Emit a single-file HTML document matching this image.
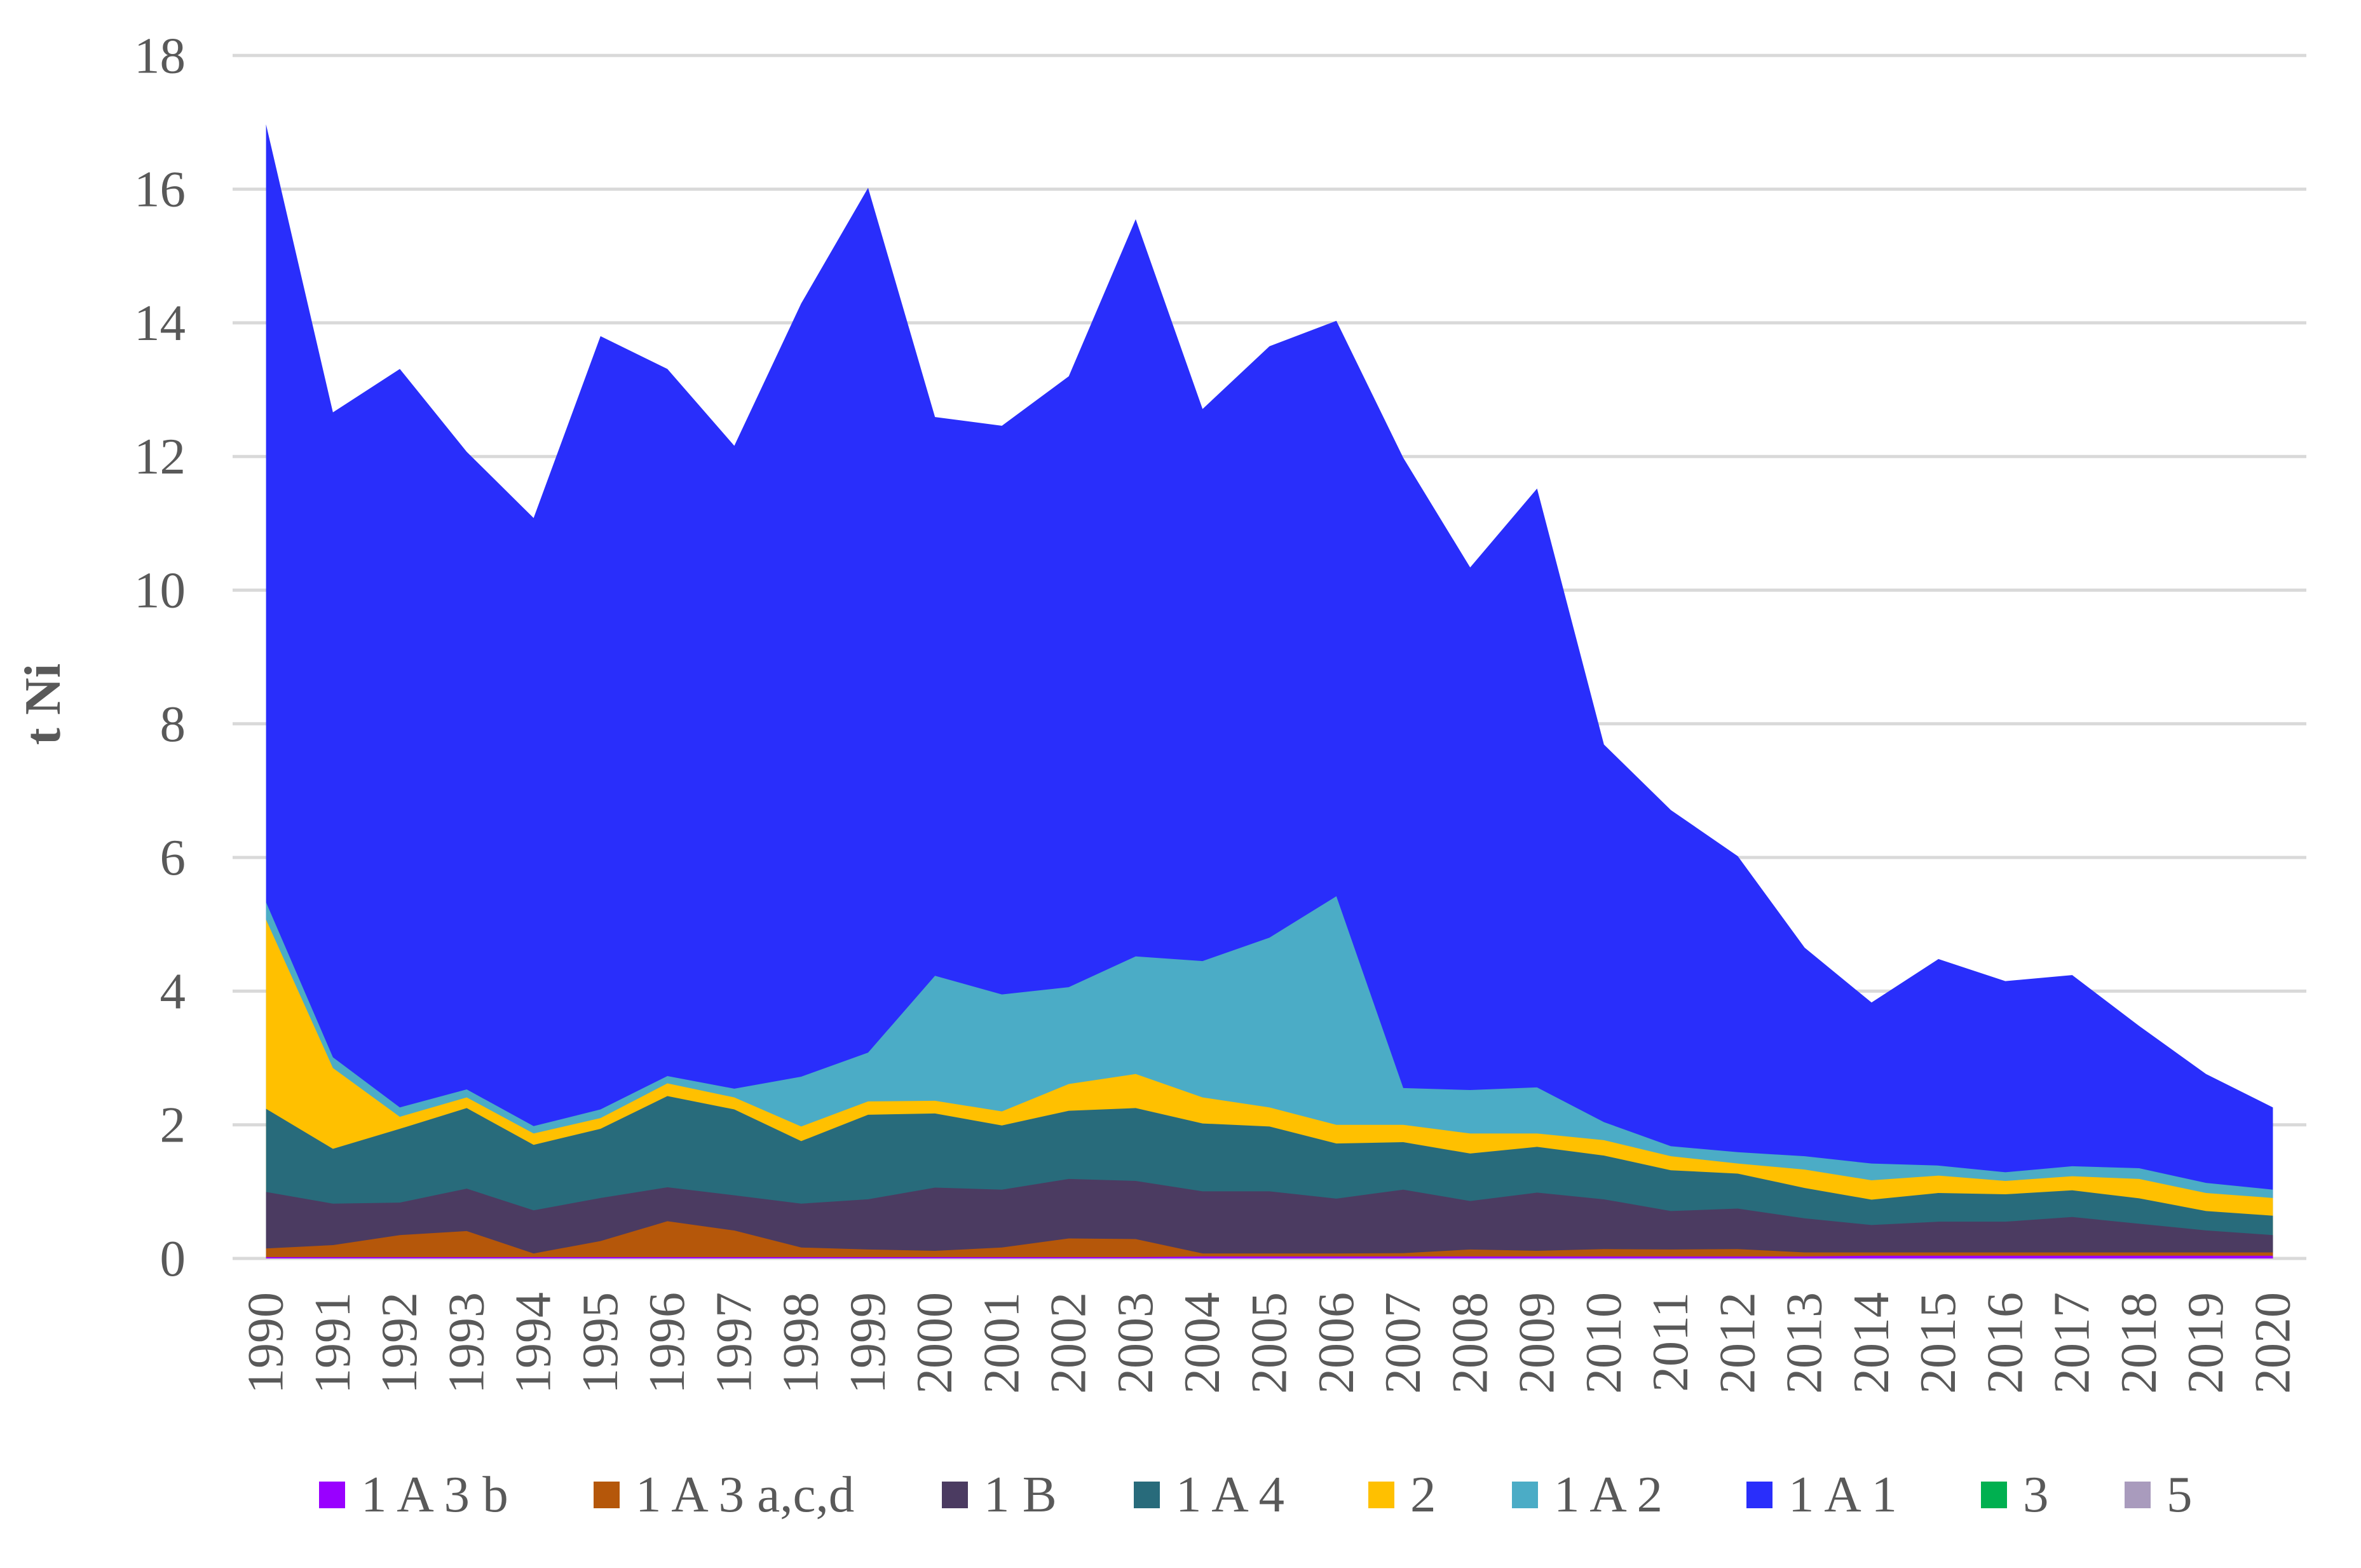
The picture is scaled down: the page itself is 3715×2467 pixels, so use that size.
<!DOCTYPE html>
<html>
<head>
<meta charset="utf-8">
<style>
  html, body { margin: 0; padding: 0; background: #ffffff; }
  svg { display: block; }
  text { font-family: "Liberation Serif", "Times New Roman", serif; fill: #595959; }
</style>
</head>
<body>
<svg width="3715" height="2467" viewBox="0 0 3715 2467" xmlns="http://www.w3.org/2000/svg">
  <rect x="0" y="0" width="3715" height="2467" fill="#ffffff"/>

  <!-- gridlines -->
  <g stroke="#d9d9d9" stroke-width="5">
    <line x1="366" y1="87.3" x2="3629" y2="87.3"/>
    <line x1="366" y1="297.6" x2="3629" y2="297.6"/>
    <line x1="366" y1="507.9" x2="3629" y2="507.9"/>
    <line x1="366" y1="718.2" x2="3629" y2="718.2"/>
    <line x1="366" y1="928.5" x2="3629" y2="928.5"/>
    <line x1="366" y1="1138.8" x2="3629" y2="1138.8"/>
    <line x1="366" y1="1349.1" x2="3629" y2="1349.1"/>
    <line x1="366" y1="1559.4" x2="3629" y2="1559.4"/>
    <line x1="366" y1="1769.7" x2="3629" y2="1769.7"/>
    <line x1="366" y1="1980" x2="3629" y2="1980"/>
  </g>

  <!-- stacked areas (cumulative, drawn top layer first) -->
  <g transform="translate(418.6,1980) scale(105.26,-105.15)">
    <!-- 1 A 1 (total) -->
    <polygon fill="#292EFB" points="0,0 0,16.97 1,12.66 2,13.31 3,12.07 4,11.08 5,13.80 6,13.31 7,12.16 8,14.29 9,16.02 10,12.59 11,12.46 12,13.20 13,15.55 14,12.71 15,13.65 16,14.03 17,11.98 18,10.34 19,11.52 20,7.69 21,6.71 22,6.02 23,4.65 24,3.83 25,4.48 26,4.15 27,4.24 28,3.48 29,2.76 30,2.26 30,0"/>
    <!-- 1 A 2 -->
    <polygon fill="#4BACC6" points="0,0 0,5.33 1,3.01 2,2.26 3,2.53 4,1.98 5,2.23 6,2.73 7,2.54 8,2.72 9,3.08 10,4.23 11,3.95 12,4.06 13,4.52 14,4.45 15,4.80 16,5.42 17,2.55 18,2.52 19,2.56 20,2.04 21,1.68 22,1.59 23,1.53 24,1.42 25,1.39 26,1.29 27,1.38 28,1.35 29,1.13 30,1.03 30,0"/>
    <!-- 2 -->
    <polygon fill="#FFC000" points="0,0 0,5.07 1,2.85 2,2.12 3,2.41 4,1.87 5,2.10 6,2.62 7,2.41 8,1.975 9,2.35 10,2.36 11,2.20 12,2.61 13,2.76 14,2.41 15,2.26 16,2.00 17,2.00 18,1.87 19,1.87 20,1.77 21,1.53 22,1.42 23,1.33 24,1.17 25,1.24 26,1.16 27,1.23 28,1.19 29,0.98 30,0.905 30,0"/>
    <!-- 1 A 4 -->
    <polygon fill="#286B7B" points="0,0 0,2.24 1,1.64 2,1.94 3,2.25 4,1.70 5,1.94 6,2.43 7,2.23 8,1.756 9,2.15 10,2.17 11,1.99 12,2.21 13,2.25 14,2.02 15,1.975 16,1.72 17,1.74 18,1.57 19,1.67 20,1.54 21,1.32 22,1.27 23,1.055 24,0.88 25,0.98 26,0.96 27,1.02 28,0.90 29,0.71 30,0.64 30,0"/>
    <!-- 1 B -->
    <polygon fill="#4B3B61" points="0,0 0,0.995 1,0.82 2,0.836 3,1.045 4,0.72 5,0.905 6,1.065 7,0.945 8,0.82 9,0.886 10,1.06 11,1.03 12,1.19 13,1.16 14,1.005 15,1.005 16,0.895 17,1.03 18,0.86 19,0.985 20,0.885 21,0.71 22,0.746 23,0.60 24,0.50 25,0.55 26,0.55 27,0.62 28,0.52 29,0.42 30,0.35 30,0"/>
    <!-- 1 A 3 a,c,d -->
    <polygon fill="#B5570A" points="0,0 0,0.15 1,0.2 2,0.35 3,0.41 4,0.075 5,0.26 6,0.557 7,0.418 8,0.164 9,0.134 10,0.114 11,0.164 12,0.30 13,0.29 14,0.075 15,0.075 16,0.075 17,0.08 18,0.134 19,0.114 20,0.14 21,0.134 22,0.14 23,0.09 24,0.09 25,0.09 26,0.09 27,0.09 28,0.09 29,0.09 30,0.09 30,0"/>
    <!-- 1 A 3 b -->
    <polygon fill="#9900FF" points="0,0 0,0.02 13,0.02 14,0.03 23,0.03 24,0.04 30,0.04 30,0"/>
  </g>

  <!-- y-axis labels -->
  <g font-size="81" text-anchor="end" dominant-baseline="central">
    <text x="292" y="87.3">18</text>
    <text x="292" y="297.6">16</text>
    <text x="292" y="507.9">14</text>
    <text x="292" y="718.2">12</text>
    <text x="292" y="928.5">10</text>
    <text x="292" y="1138.8">8</text>
    <text x="292" y="1349.1">6</text>
    <text x="292" y="1559.4">4</text>
    <text x="292" y="1769.7">2</text>
    <text x="292" y="1980">0</text>
  </g>

  <!-- y-axis title -->
  <text transform="translate(67,1108) rotate(-90)" font-size="81" font-weight="bold" text-anchor="middle" dominant-baseline="central">t Ni</text>

  <!-- x-axis labels -->
  <g font-size="80" text-anchor="end" dominant-baseline="central">
    <text transform="translate(418.6,2033) rotate(-90)">1990</text>
    <text transform="translate(523.9,2033) rotate(-90)">1991</text>
    <text transform="translate(629.1,2033) rotate(-90)">1992</text>
    <text transform="translate(734.4,2033) rotate(-90)">1993</text>
    <text transform="translate(839.6,2033) rotate(-90)">1994</text>
    <text transform="translate(944.9,2033) rotate(-90)">1995</text>
    <text transform="translate(1050.2,2033) rotate(-90)">1996</text>
    <text transform="translate(1155.4,2033) rotate(-90)">1997</text>
    <text transform="translate(1260.7,2033) rotate(-90)">1998</text>
    <text transform="translate(1365.9,2033) rotate(-90)">1999</text>
    <text transform="translate(1471.2,2033) rotate(-90)">2000</text>
    <text transform="translate(1576.5,2033) rotate(-90)">2001</text>
    <text transform="translate(1681.7,2033) rotate(-90)">2002</text>
    <text transform="translate(1787.0,2033) rotate(-90)">2003</text>
    <text transform="translate(1892.2,2033) rotate(-90)">2004</text>
    <text transform="translate(1997.5,2033) rotate(-90)">2005</text>
    <text transform="translate(2102.8,2033) rotate(-90)">2006</text>
    <text transform="translate(2208.0,2033) rotate(-90)">2007</text>
    <text transform="translate(2313.3,2033) rotate(-90)">2008</text>
    <text transform="translate(2418.5,2033) rotate(-90)">2009</text>
    <text transform="translate(2523.8,2033) rotate(-90)">2010</text>
    <text transform="translate(2629.1,2033) rotate(-90)">2011</text>
    <text transform="translate(2734.3,2033) rotate(-90)">2012</text>
    <text transform="translate(2839.6,2033) rotate(-90)">2013</text>
    <text transform="translate(2944.8,2033) rotate(-90)">2014</text>
    <text transform="translate(3050.1,2033) rotate(-90)">2015</text>
    <text transform="translate(3155.4,2033) rotate(-90)">2016</text>
    <text transform="translate(3260.6,2033) rotate(-90)">2017</text>
    <text transform="translate(3365.9,2033) rotate(-90)">2018</text>
    <text transform="translate(3471.1,2033) rotate(-90)">2019</text>
    <text transform="translate(3576.4,2033) rotate(-90)">2020</text>
  </g>

  <!-- legend -->
  <g font-size="81">
    <rect x="502" y="2331" width="41" height="42" fill="#9900FF"/>
    <text x="568" y="2378">1 A 3 b</text>
    <rect x="934" y="2331" width="41" height="42" fill="#B5570A"/>
    <text x="1000" y="2378">1 A 3 a,c,d</text>
    <rect x="1482" y="2331" width="41" height="42" fill="#4B3B61"/>
    <text x="1548" y="2378">1 B</text>
    <rect x="1784" y="2331" width="41" height="42" fill="#286B7B"/>
    <text x="1850" y="2378">1 A 4</text>
    <rect x="2153" y="2331" width="41" height="42" fill="#FFC000"/>
    <text x="2219" y="2378">2</text>
    <rect x="2379" y="2331" width="41" height="42" fill="#4BACC6"/>
    <text x="2445" y="2378">1 A 2</text>
    <rect x="2748" y="2331" width="41" height="42" fill="#292EFB"/>
    <text x="2814" y="2378">1 A 1</text>
    <rect x="3117" y="2331" width="41" height="42" fill="#00B050"/>
    <text x="3183" y="2378">3</text>
    <rect x="3343" y="2331" width="41" height="42" fill="#A99BBD"/>
    <text x="3409" y="2378">5</text>
  </g>
</svg>
</body>
</html>
